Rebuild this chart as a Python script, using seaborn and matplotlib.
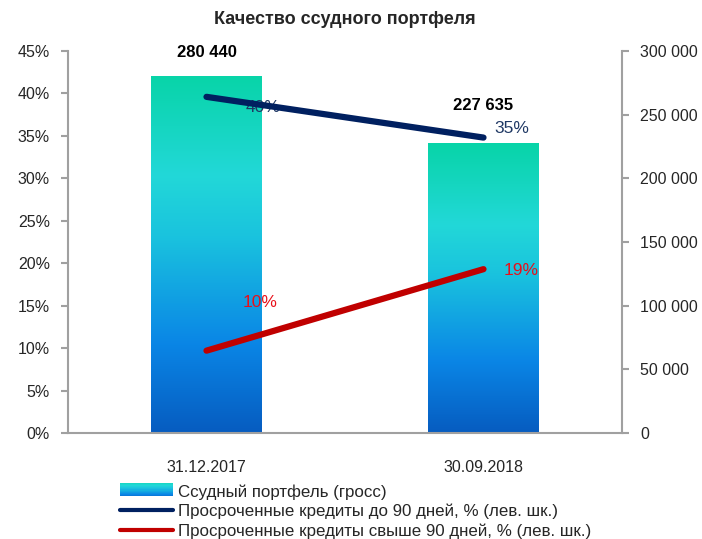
import numpy as np
import matplotlib
matplotlib.use("Agg")
import matplotlib.pyplot as plt
import seaborn as sns
from matplotlib.colors import LinearSegmentedColormap
from matplotlib.legend_handler import HandlerBase
from matplotlib.patches import Patch, Rectangle
from matplotlib.lines import Line2D
from matplotlib.ticker import FuncFormatter, FixedLocator

# data
dates = ["31.12.2017", "30.09.2018"]
portfolio = [280440, 227635]
overdue_90 = [39.6, 34.8]
overdue_over90 = [9.7, 19.3]
overdue_90_labels = ["40%", "35%"]
overdue_over90_labels = ["10%", "19%"]

sns.set_style("white")
plt.rcParams["font.family"] = ["Liberation Sans", "DejaVu Sans"]

grey = "#A0A0A0"
navy = "#002060"
red = "#C00000"
grad = LinearSegmentedColormap.from_list(
    "bar", [(0.0, "#065CC0"), (0.25, "#0A86E6"), (0.55, "#1AC3DE"),
            (0.72, "#22D8D8"), (1.0, "#08D4A8")])

fig = plt.figure(figsize=(7.02, 5.39), dpi=100)
ax = fig.add_axes([68 / 702, 1 - 433 / 539, (622 - 68) / 702, (433 - 51) / 539])
ax2 = ax.twinx()

# bars on the right axis, drawn with a vertical gradient
sns.barplot(x=dates, y=portfolio, ax=ax2, width=0.4, color="white")
for bar in ax2.patches:
    x0, y0 = bar.get_x(), bar.get_y()
    w, h = bar.get_width(), bar.get_height()
    bar.set_facecolor("none")
    bar.set_edgecolor("none")
    im = ax2.imshow(np.linspace(1, 0, 256).reshape(-1, 1), cmap=grad, aspect="auto",
                    extent=[x0, x0 + w, y0, y0 + h], origin="upper", zorder=1)
    im.set_clip_path(bar)
bar_off = [23, 38]
for i, v in enumerate(portfolio):
    ax2.annotate(f"{v:,}".replace(",", " "), (i, v), xytext=(0, bar_off[i]),
                 textcoords="offset pixels", ha="center", va="center",
                 fontsize=12, fontweight="bold", color="black")

# lines on the left axis
xs = list(range(len(dates)))
sns.lineplot(x=xs, y=overdue_90, ax=ax, color=navy, lw=4.5,
             solid_capstyle="round", zorder=3)
sns.lineplot(x=xs, y=overdue_over90, ax=ax, color=red, lw=4.5,
             solid_capstyle="round", zorder=3)
navy_off = [(56, -11), (28, 9)]
red_off = [(54, 48), (38, -1)]
for i in xs:
    ax.annotate(overdue_90_labels[i], (i, overdue_90[i]), xytext=navy_off[i],
                textcoords="offset pixels", ha="center", va="center",
                fontsize=12.5, color="#1F3864", zorder=2)
    ax.annotate(overdue_over90_labels[i], (i, overdue_over90[i]), xytext=red_off[i],
                textcoords="offset pixels", ha="center", va="center",
                fontsize=12.5, color="#E8101A", zorder=2)

ax.set_zorder(ax2.get_zorder() + 1)
ax.patch.set_visible(False)

ax.set_xlim(-0.5, 1.5)
ax.set_ylim(0, 45)
ax2.set_ylim(0, 300000)
ax.set_yticks(np.arange(0, 46, 5))
ax.yaxis.set_major_formatter(FuncFormatter(lambda v, p: f"{v:.0f}%"))
ax2.set_yticks(np.arange(0, 300001, 50000))
ax2.yaxis.set_major_formatter(FuncFormatter(lambda v, p: f"{v:,.0f}".replace(",", " ")))

ax.set_xticks(xs)
ax.set_xticklabels(dates)
ax.xaxis.set_minor_locator(FixedLocator([-0.5, 0.5, 1.5]))
ax.tick_params(axis="x", which="major", length=0, pad=19.5, labelsize=11.5)
ax.tick_params(axis="x", which="minor", length=5, width=1.5, color=grey, direction="out")
ax.tick_params(axis="y", length=5, width=1.5, color=grey, labelsize=11.5, pad=8)
ax2.tick_params(axis="y", length=5, width=1.5, color=grey, labelsize=11.5, pad=8)
ax2.set_xlabel("")
ax2.set_ylabel("")

for a in (ax, ax2):
    for s in a.spines.values():
        s.set_visible(False)
ax.spines["left"].set_visible(True)
ax.spines["bottom"].set_visible(True)
ax2.spines["right"].set_visible(True)
for s in (ax.spines["left"], ax.spines["bottom"], ax2.spines["right"]):
    s.set_color(grey)
    s.set_linewidth(1.5)

fig.suptitle("Качество ссудного портфеля", x=345 / 702, y=1 - 19 / 539,
             va="center", fontsize=13, fontweight="bold")


class GradientHandler(HandlerBase):
    def create_artists(self, legend, orig, xd, yd, width, height, fontsize, trans):
        n = 12
        arts = []
        for k in range(n):
            r = Rectangle((xd, yd + height * k / n), width, height / n + 0.3,
                          facecolor=grad(0.15 + 0.7 * (k + 0.5) / n),
                          edgecolor="none", transform=trans)
            arts.append(r)
        return arts


handles = [Patch(), Line2D([], [], color=navy, lw=3), Line2D([], [], color=red, lw=3)]
labels = ["Ссудный портфель (гросс)",
          "Просроченные кредиты до 90 дней, % (лев. шк.)",
          "Просроченные кредиты свыше 90 дней, % (лев. шк.)"]
fig.legend(handles, labels, loc="upper left", bbox_to_anchor=(120 / 702, 1 - 484 / 539),
           frameon=False, fontsize=12.2, handlelength=3.1, handleheight=0.8,
           handletextpad=0.3, labelspacing=0.25, borderpad=0, borderaxespad=0,
           handler_map={Patch: GradientHandler()})

fig.savefig("out.png", dpi=100)
